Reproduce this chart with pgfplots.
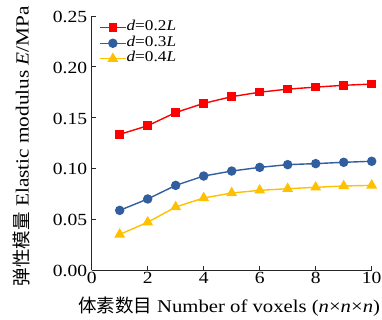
\documentclass[border=0pt]{standalone}
\usepackage{fontspec}
\setmainfont{Liberation Serif}[FakeStretch=1.15]
\newfontfamily\cjk{Noto Sans CJK SC}
\usepackage{pgfplots}
\pgfplotsset{compat=1.18}
\definecolor{cred}{RGB}{255,0,0}
\definecolor{cblue}{RGB}{48,94,158}
\definecolor{cyellow}{RGB}{255,192,0}
\begin{document}
\begin{tikzpicture}
\begin{axis}[
  at={(0pt,0pt)}, anchor=south west,
  scale only axis,
  width=280pt, height=254pt,
  xmin=0, xmax=10, ymin=0, ymax=0.25,
  axis x line*=bottom, axis y line*=left,
  axis line style={line width=0.9pt, black!85},
  tick style={line width=0.9pt, black!85},
  tick align=inside,
  major tick length=4pt,
  xtick={0,2,4,6,8,10},
  ytick={0,0.05,0.10,0.15,0.20,0.25},
  /pgf/number format/assume math mode=true,
  scaled y ticks=false,
  yticklabel style={/pgf/number format/fixed, /pgf/number format/fixed zerofill, /pgf/number format/precision=2,
     inner sep=0pt, anchor=east, xshift=-4.4pt, yshift=-1pt},
  xticklabel style={inner sep=0pt, anchor=north, yshift=-2pt},
  ticklabel style={font=\fontsize{17}{17}\selectfont},
  xlabel={{\cjk\fontsize{18.5}{18.5}\selectfont 体素数目} Number of voxels (\textit{n}×\textit{n}×\textit{n})},
  ylabel={{\cjk 弹性模量} Elastic modulus \textit{E}/MPa},
  label style={inner sep=0pt},
  xlabel style={font=\fontsize{18}{18}\selectfont, at={(axis description cs:0.4904,-0.1457)}, anchor=center},
  ylabel style={font=\fontsize{18.5}{18.5}\selectfont, at={(axis description cs:-0.2507,0.488)}, anchor=center},
  legend style={at={(axis description cs:0.026,0.985)}, anchor=north west, draw=none, fill=none,
     font=\fontsize{15}{15}\selectfont, row sep=0pt, inner sep=0pt,
     nodes={inner sep=0pt, text height=10.5pt, text depth=5pt}},
  legend cell align=left,
  legend image code/.code={
    \draw[line width=1.4pt, mark repeat=2,mark phase=2] plot coordinates {(0pt,0pt) (13pt,0pt) (26pt,0pt)};
  },
  every axis plot/.append style={line width=1.4pt},
]
\addplot[cred, mark=square*, mark size=3.6pt] coordinates {
(1,0.1335) (2,0.142) (3,0.155) (4,0.164) (5,0.1706) (6,0.175) (7,0.178) (8,0.180) (9,0.1818) (10,0.183)};
\addlegendentry{\textit{d}=0.2\textit{L}}
\addplot[cblue, mark=*, mark size=4pt] coordinates {
(1,0.0587) (2,0.0699) (3,0.0833) (4,0.0925) (5,0.0974) (6,0.101) (7,0.1037) (8,0.1047) (9,0.106) (10,0.107)};
\addlegendentry{\textit{d}=0.3\textit{L}}
\addplot[cyellow, mark=triangle*, mark size=4.9pt] coordinates {
(1,0.035) (2,0.047) (3,0.062) (4,0.0709) (5,0.0758) (6,0.0784) (7,0.080) (8,0.0814) (9,0.0827) (10,0.0833)};
\addlegendentry{\textit{d}=0.4\textit{L}}
\end{axis}
\pgfresetboundingbox
\path[use as bounding box] (-91.7pt,-50pt) rectangle (290.3pt,270pt);
\end{tikzpicture}
\end{document}
